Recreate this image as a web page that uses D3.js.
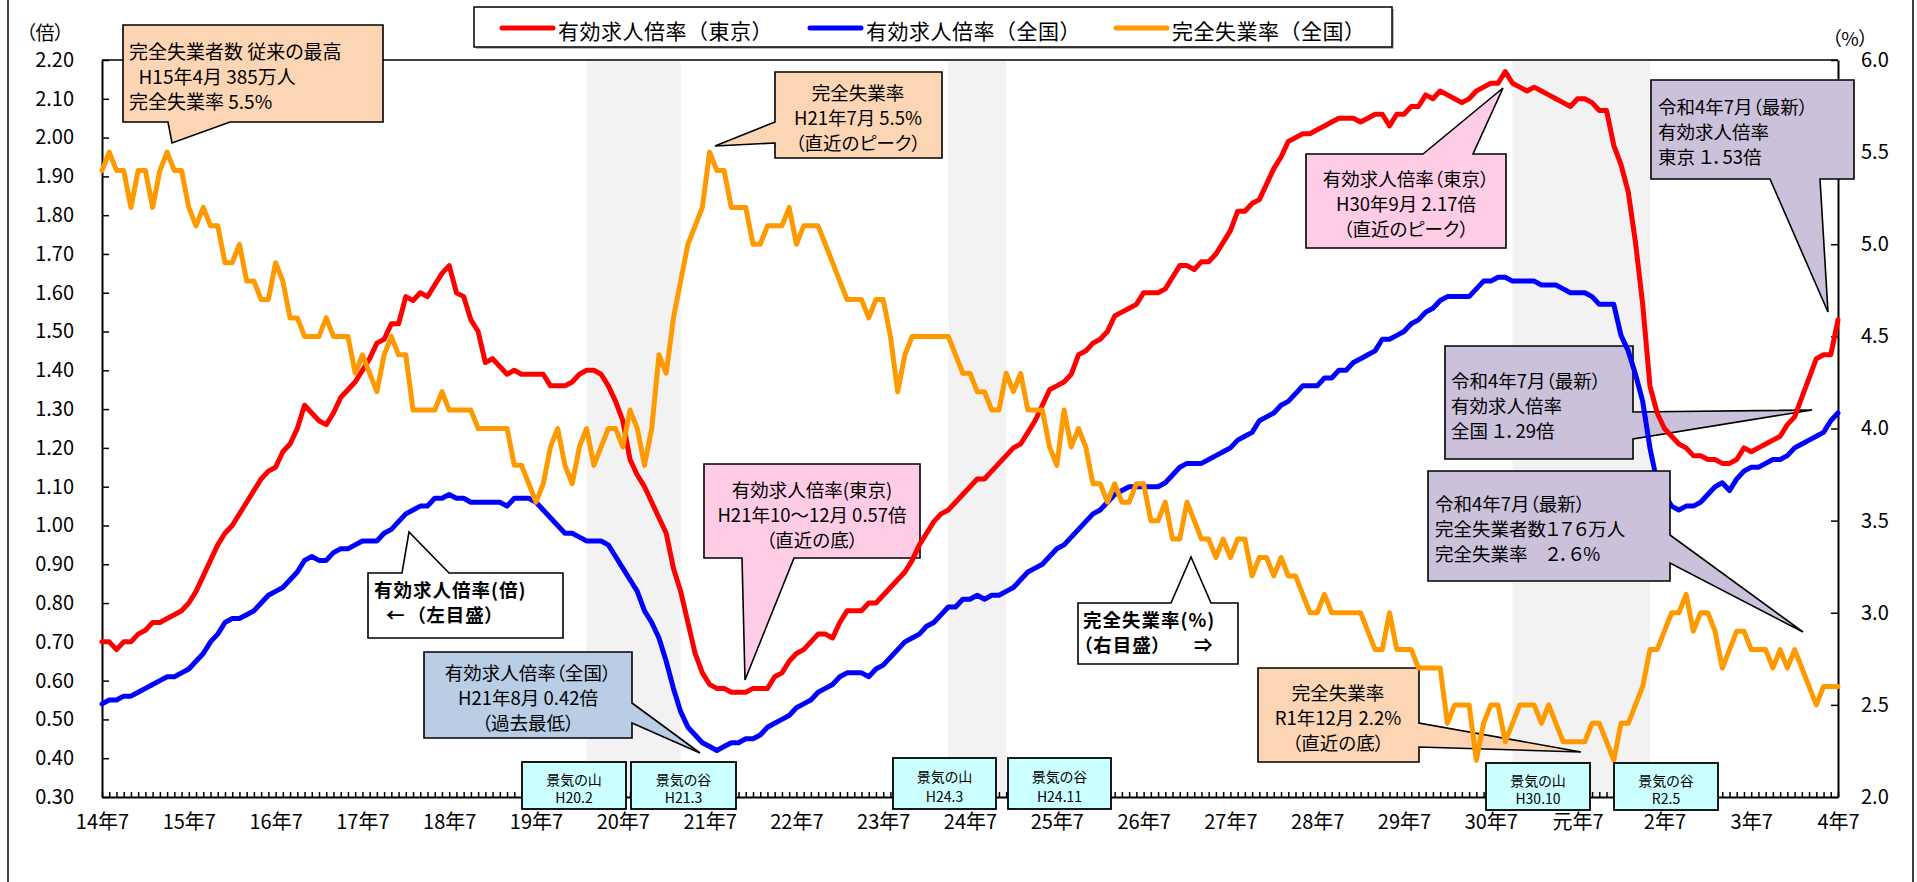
<!DOCTYPE html>
<html lang="ja"><head><meta charset="utf-8">
<script src="https://cdn.jsdelivr.net/npm/d3@7/dist/d3.min.js"></script>
<style>
html,body{margin:0;padding:0;background:#fff;overflow:hidden;}
svg{display:block;}
text{font-family:"Noto Sans CJK JP","Noto Sans",sans-serif;font-feature-settings:"palt";white-space:pre;fill:#000;}
</style></head><body>
<svg id="chart" width="1917" height="882"></svg>
<script>
// ---------------- DATA (monthly, H14.7 = index 0 ... R4.7 = index 240) ----------------
const seriesNames = ["有効求人倍率（東京）", "有効求人倍率（全国）", "完全失業率（全国）"];

const tokyoRatio = [
 0.70,0.70,0.68,0.70,0.70,0.72,0.73,0.75,0.75,0.76,0.77,0.78,
 0.80,0.83,0.87,0.91,0.95,0.98,1.00,1.03,1.06,1.09,1.12,1.14,
 1.15,1.19,1.21,1.25,1.31,1.29,1.27,1.26,1.29,1.33,1.35,1.37,
 1.40,1.43,1.47,1.48,1.52,1.52,1.59,1.58,1.60,1.59,1.62,1.65,
 1.67,1.60,1.59,1.53,1.50,1.42,1.43,1.41,1.39,1.40,1.39,1.39,
 1.39,1.39,1.36,1.36,1.36,1.37,1.39,1.40,1.40,1.39,1.36,1.32,
 1.27,1.17,1.13,1.10,1.06,1.02,0.98,0.89,0.83,0.75,0.67,0.62,
 0.59,0.58,0.58,0.57,0.57,0.57,0.58,0.58,0.58,0.61,0.62,0.65,
 0.67,0.68,0.70,0.72,0.72,0.71,0.75,0.78,0.78,0.78,0.80,0.80,
 0.82,0.84,0.86,0.88,0.91,0.95,0.98,1.01,1.03,1.04,1.06,1.08,
 1.10,1.12,1.12,1.14,1.16,1.18,1.20,1.21,1.24,1.27,1.31,1.35,
 1.36,1.37,1.39,1.44,1.45,1.47,1.48,1.50,1.54,1.55,1.56,1.57,
 1.60,1.60,1.60,1.61,1.64,1.67,1.67,1.66,1.68,1.68,1.70,1.73,
 1.76,1.81,1.81,1.83,1.84,1.88,1.92,1.95,1.99,2.00,2.01,2.01,
 2.02,2.03,2.04,2.05,2.05,2.05,2.04,2.05,2.06,2.06,2.03,2.06,
 2.06,2.08,2.08,2.11,2.10,2.12,2.11,2.10,2.09,2.10,2.12,2.13,
 2.14,2.14,2.17,2.14,2.13,2.12,2.13,2.12,2.11,2.10,2.09,2.08,
 2.10,2.10,2.09,2.07,2.07,1.98,1.93,1.86,1.73,1.57,1.36,1.29,
 1.25,1.23,1.21,1.20,1.18,1.18,1.17,1.17,1.16,1.16,1.17,1.20,
 1.19,1.20,1.21,1.22,1.23,1.26,1.28,1.33,1.38,1.43,1.44,1.44,
 1.53
];

const nationalRatio = [
 0.54,0.55,0.55,0.56,0.56,0.57,0.58,0.59,0.60,0.61,0.61,0.62,
 0.63,0.65,0.67,0.70,0.72,0.75,0.76,0.76,0.77,0.78,0.80,0.82,
 0.83,0.84,0.86,0.88,0.91,0.92,0.91,0.91,0.93,0.94,0.94,0.95,
 0.96,0.96,0.96,0.98,0.99,1.01,1.03,1.04,1.05,1.05,1.07,1.07,
 1.08,1.07,1.07,1.06,1.06,1.06,1.06,1.06,1.05,1.07,1.07,1.07,
 1.06,1.04,1.02,1.00,0.98,0.98,0.97,0.96,0.96,0.96,0.95,0.92,
 0.89,0.86,0.83,0.78,0.75,0.71,0.65,0.58,0.52,0.48,0.46,0.44,
 0.43,0.42,0.43,0.44,0.44,0.45,0.45,0.46,0.48,0.49,0.50,0.51,
 0.53,0.54,0.55,0.57,0.58,0.59,0.61,0.62,0.62,0.62,0.61,0.63,
 0.64,0.66,0.68,0.70,0.71,0.72,0.74,0.75,0.77,0.79,0.79,0.81,
 0.81,0.82,0.81,0.82,0.82,0.83,0.84,0.86,0.88,0.89,0.90,0.92,
 0.94,0.95,0.97,0.99,1.01,1.03,1.04,1.06,1.08,1.09,1.10,1.10,
 1.10,1.10,1.10,1.11,1.13,1.15,1.16,1.16,1.16,1.17,1.18,1.19,
 1.20,1.22,1.23,1.24,1.27,1.28,1.29,1.31,1.32,1.34,1.36,1.36,
 1.36,1.38,1.38,1.40,1.40,1.42,1.43,1.44,1.45,1.48,1.48,1.49,
 1.50,1.52,1.53,1.55,1.56,1.58,1.59,1.59,1.59,1.59,1.61,1.63,
 1.63,1.64,1.64,1.63,1.63,1.63,1.63,1.62,1.62,1.62,1.61,1.60,
 1.60,1.60,1.59,1.57,1.57,1.57,1.49,1.45,1.39,1.32,1.20,1.11,
 1.08,1.05,1.04,1.05,1.05,1.06,1.08,1.10,1.11,1.09,1.12,1.14,
 1.15,1.15,1.16,1.17,1.17,1.18,1.20,1.21,1.22,1.23,1.24,1.27,
 1.29
];

const unemploymentRate = [
 5.4,5.5,5.4,5.4,5.2,5.4,5.4,5.2,5.4,5.5,5.4,5.4,
 5.2,5.1,5.2,5.1,5.1,4.9,4.9,5.0,4.8,4.8,4.7,4.7,
 4.9,4.8,4.6,4.6,4.5,4.5,4.5,4.6,4.5,4.5,4.5,4.3,
 4.4,4.3,4.2,4.4,4.5,4.4,4.4,4.1,4.1,4.1,4.1,4.2,
 4.1,4.1,4.1,4.1,4.0,4.0,4.0,4.0,4.0,3.8,3.8,3.7,
 3.6,3.7,3.9,4.0,3.8,3.7,3.9,4.0,3.8,3.9,4.0,4.0,
 3.9,4.1,4.0,3.8,4.0,4.4,4.3,4.6,4.8,5.0,5.1,5.2,
 5.5,5.4,5.4,5.2,5.2,5.2,5.0,5.0,5.1,5.1,5.1,5.2,
 5.0,5.1,5.1,5.1,5.0,4.9,4.8,4.7,4.7,4.7,4.6,4.7,
 4.7,4.5,4.2,4.4,4.5,4.5,4.5,4.5,4.5,4.5,4.4,4.3,
 4.3,4.2,4.2,4.1,4.1,4.3,4.2,4.3,4.1,4.1,4.1,3.9,
 3.8,4.1,3.9,4.0,3.9,3.7,3.7,3.6,3.7,3.6,3.6,3.7,
 3.7,3.5,3.5,3.6,3.4,3.4,3.6,3.5,3.4,3.4,3.3,3.4,
 3.3,3.4,3.4,3.2,3.3,3.3,3.2,3.3,3.2,3.2,3.1,3.0,
 3.0,3.1,3.0,3.0,3.0,3.0,3.0,2.9,2.8,2.8,3.0,2.8,
 2.8,2.8,2.7,2.7,2.7,2.7,2.4,2.5,2.5,2.5,2.2,2.4,
 2.5,2.5,2.3,2.4,2.5,2.5,2.5,2.4,2.5,2.4,2.3,2.3,
 2.3,2.3,2.4,2.4,2.3,2.2,2.4,2.4,2.5,2.6,2.8,2.8,
 2.9,3.0,3.0,3.1,2.9,3.0,3.0,2.9,2.7,2.8,2.9,2.9,
 2.8,2.8,2.8,2.7,2.8,2.7,2.8,2.7,2.6,2.5,2.6,2.6,
 2.6
];

const xTickLabels = ["14年7","15年7","16年7","17年7","18年7","19年7","20年7","21年7","22年7","23年7",
  "24年7","25年7","26年7","27年7","28年7","29年7","30年7","元年7","2年7","3年7","4年7"];
const leftTicks  = [0.30,0.40,0.50,0.60,0.70,0.80,0.90,1.00,1.10,1.20,1.30,1.40,1.50,1.60,1.70,1.80,1.90,2.00,2.10,2.20];
const rightTicks = [2.0,2.5,3.0,3.5,4.0,4.5,5.0,5.5,6.0];

// recession periods (month index from H14.7): start, end
const recessionBands = [[67,80],[117,125],[195,214]];
const cycleKinds = ["景気の山","景気の谷","景気の山","景気の谷","景気の山","景気の谷"];
const cycleDates = ["H20.2","H21.3","H24.3","H24.11","H30.10","R2.5"];

// ---------------- LAYOUT ----------------
const W=1917, H=882, X0=102, X1=1838, Y0=60, Y1=797;
const COLORS = ["#ff0000","#0000ff","#ff9900"];
const PEACH="#fcd5b4", PINK="#ffcce6", PURPLE="#ccc1da", BLUEGREY="#b9cde5", CYAN="#ccffff";

const x  = d3.scaleLinear().domain([0, tokyoRatio.length-1]).range([X0, X1]);
const yL = d3.scaleLinear().domain([leftTicks[0], leftTicks[leftTicks.length-1]]).range([Y1, Y0]);
const yR = d3.scaleLinear().domain([rightTicks[0], rightTicks[rightTicks.length-1]]).range([Y1, Y0]);

const svg = d3.select("#chart");
svg.append("rect").attr("width",W).attr("height",H).attr("fill","#fff");
svg.append("rect").attr("x",8).attr("y",-3).attr("width",1905).attr("height",H+6)
   .attr("fill","none").attr("stroke","#000").attr("stroke-width",1.5);

// recession shading
svg.append("g").selectAll("rect").data(recessionBands).join("rect")
  .attr("x",d=>x(d[0])).attr("width",d=>x(d[1])-x(d[0]))
  .attr("y",Y0+1).attr("height",Y1-Y0-1).attr("fill","#f2f2f2");

// top frame
svg.append("line").attr("x1",X0).attr("x2",X1).attr("y1",Y0).attr("y2",Y0)
   .attr("stroke","#000").attr("stroke-width",1.5);

function styleAxis(g, fs){
  g.attr("font-size",fs).attr("font-family",null);
  g.select(".domain").attr("stroke","#000").attr("stroke-width",2);
  g.selectAll(".tick line").attr("stroke","#000").attr("stroke-width",1.5);
  g.selectAll(".tick text").attr("fill","#000");
}
// left axis
const gL = svg.append("g").attr("transform",`translate(${X0},0)`)
  .call(d3.axisLeft(yL).tickValues(leftTicks).tickFormat(d3.format(".2f")).tickSizeInner(-7).tickSizeOuter(0).tickPadding(28));
styleAxis(gL, 20);
// right axis
const gR = svg.append("g").attr("transform",`translate(${X1},0)`)
  .call(d3.axisRight(yR).tickValues(rightTicks).tickFormat(d3.format(".1f")).tickSizeInner(-7).tickSizeOuter(0).tickPadding(23));
styleAxis(gR, 20);
// bottom axis: monthly ticks
const gB = svg.append("g").attr("transform",`translate(0,${Y1})`)
  .call(d3.axisBottom(x).tickValues(d3.range(0, tokyoRatio.length)).tickFormat(()=>"").tickSizeInner(-5).tickSizeOuter(0));
styleAxis(gB, 10);
gB.selectAll(".tick text").remove();
// bottom axis labels (every July)
const gBL = svg.append("g").attr("transform",`translate(0,${Y1})`)
  .call(d3.axisBottom(x).tickValues(d3.range(0, tokyoRatio.length, 12)).tickFormat((d,i)=>xTickLabels[i]).tickSize(0));
gBL.select(".domain").remove();
gBL.attr("font-size",20).attr("font-family",null);
gBL.selectAll(".tick text").attr("y",25).attr("dy","0.35em").attr("fill","#000");

// axis unit labels
svg.append("text").attr("x",45).attr("y",31).attr("text-anchor","middle").attr("dominant-baseline","central")
   .attr("font-size",19).text("（倍）");
svg.append("text").attr("x",1850).attr("y",37).attr("text-anchor","middle").attr("dominant-baseline","central")
   .attr("font-size",19).text("（%）");

// ---------------- CALLOUTS ----------------
function calloutPath(c){
  const [bx,by,bw,bh]=c.box, [a,b]=c.base, [tx,ty]=c.tip, r=bx+bw, btm=by+bh;
  switch(c.side){
    case "bottom": return `M${bx},${by}H${r}V${btm}H${b}L${tx},${ty}L${a},${btm}H${bx}Z`;
    case "top":    return `M${bx},${by}H${a}L${tx},${ty}L${b},${by}H${r}V${btm}H${bx}Z`;
    case "left":   return `M${bx},${by}H${r}V${btm}H${bx}V${b}L${tx},${ty}L${bx},${a}Z`;
    case "right":  return `M${bx},${by}H${r}V${a}L${tx},${ty}L${r},${b}V${btm}H${bx}Z`;
  }
}
function drawCallout(g,c){
  g.append("path").attr("d",calloutPath(c)).attr("fill",c.fill)
   .attr("stroke","#000").attr("stroke-width",1.6).attr("stroke-linejoin","miter");
  const t=g.append("g").attr("font-size",c.size||19).attr("font-weight",c.bold?"bold":"normal");
  c.lines.forEach((ln,i)=>{
    const pieces = Array.isArray(ln) ? ln : [{t:ln}];
    pieces.forEach(p=>{
      t.append("text").attr("x",p.x!=null?p.x:c.tx).attr("y",c.ys[i])
       .attr("dominant-baseline","central")
       .attr("text-anchor",p.x!=null?"start":c.anchor)
       .style("letter-spacing",(c.ls||0)+"px")
       .text(p.t);
    });
  });
}
const callouts = [
  {box:[123,25,260,97], side:"bottom", base:[168,230], tip:[172,143], fill:PEACH, anchor:"start", tx:129, ys:[50,75,100],
   lines:["完全失業者数 従来の最高","\u2002H15年4月 385万人","完全失業率 5.5%"]},
  {box:[775,72,167,86], side:"left", base:[122,143], tip:[715,146], fill:PEACH, anchor:"middle", tx:858, ys:[92,117,142], size:18.5,
   lines:["完全失業率","H21年7月 5.5%","（直近のピーク）"]},
  {box:[1306,154,200,94], side:"top", base:[1423,1473], tip:[1503,88], fill:PINK, anchor:"middle", tx:1406, ys:[178,203,228], size:18.5,
   lines:["有効求人倍率（東京）","H30年9月 2.17倍","（直近のピーク）"]},
  {box:[1445,346,188,113], side:"right", base:[412,439], tip:[1812,410], fill:PURPLE, anchor:"start", tx:1451, ys:[380,405,430], size:18.5,
   lines:["令和4年7月（最新）","有効求人倍率","全国 １．29倍"]},
  {box:[1258,668,161,94], side:"right", base:[723,747], tip:[1581,752], fill:PEACH, anchor:"middle", tx:1338, ys:[692,717,742], size:18.5,
   lines:["完全失業率","R1年12月 2.2%","（直近の底）"]},
  {box:[704,464,216,94], side:"bottom", base:[742,794], tip:[745,680], fill:PINK, anchor:"middle", tx:812, ys:[489,514,539], size:18.5,
   lines:["有効求人倍率(東京)","H21年10～12月 0.57倍","（直近の底）"]},
  {box:[424,652,208,86], side:"right", base:[703,723], tip:[700,753], fill:BLUEGREY, anchor:"middle", tx:528, ys:[672,697,722], size:18.5,
   lines:["有効求人倍率（全国）","H21年8月 0.42倍","（過去最低）"]},
  {box:[368,573,195,65], side:"top", base:[402,449], tip:[409,532], fill:"#fff", bold:true, anchor:"start", tx:374, ys:[589,614], ls:1, size:18.5,
   lines:["有効求人倍率(倍)", [{t:"←",x:386},{t:"（左目盛）",x:416}]]},
  {box:[1078,603,160,61], side:"top", base:[1171,1211], tip:[1191,557], fill:"#fff", bold:true, anchor:"start", tx:1083, ys:[619,644], ls:1, size:18.5,
   lines:["完全失業率(%)", [{t:"（右目盛）",x:1083},{t:"⇒",x:1194}]]}
];
const calloutsTop = [
  {box:[1651,80,203,99], side:"bottom", base:[1770,1820], tip:[1828,312], fill:PURPLE, anchor:"start", tx:1658, ys:[106,131,156], size:18.5,
   lines:["令和4年7月（最新）","有効求人倍率","東京 １．53倍"]},
  {box:[1428,471,242,110], side:"right", base:[535,563], tip:[1803,632], fill:PURPLE, anchor:"start", tx:1435, ys:[503,528,553], size:18.5,
   lines:["令和4年7月（最新）","完全失業者数１７６万人","完全失業率　２．６%"]}
];
const gC1 = svg.append("g");
callouts.forEach(c=>drawCallout(gC1,c));

// ---------------- SERIES ----------------
const lineL = d3.line().x((d,i)=>x(i)).y(d=>yL(d));
const lineR = d3.line().x((d,i)=>x(i)).y(d=>yR(d));
const gS = svg.append("g").attr("fill","none").attr("stroke-width",5)
  .attr("stroke-linejoin","round").attr("stroke-linecap","round");
gS.append("path").attr("d",lineL(tokyoRatio)).attr("stroke",COLORS[0]);
gS.append("path").attr("d",lineL(nationalRatio)).attr("stroke",COLORS[1]);
gS.append("path").attr("d",lineR(unemploymentRate)).attr("stroke",COLORS[2]);

const gC2 = svg.append("g");
calloutsTop.forEach(c=>drawCallout(gC2,c));

// ---------------- BUSINESS CYCLE LABELS ----------------
const cycleBoxes = [[522,762,104,47],[631,762,105,47],[893,758,103,51],[1008,758,103,51],[1486,763,104,47],[1614,763,104,47]];
const gK = svg.append("g");
cycleKinds.forEach((k,i)=>{
  const [bx,by,bw,bh]=cycleBoxes[i];
  gK.append("rect").attr("x",bx).attr("y",by).attr("width",bw).attr("height",bh)
    .attr("fill",CYAN).attr("stroke","#000").attr("stroke-width",1.8);
  gK.append("text").attr("x",bx+bw/2).attr("y",by+bh*0.36).attr("text-anchor","middle")
    .attr("dominant-baseline","central").attr("font-size",14).attr("fill","#222").text(k);
  gK.append("text").attr("x",bx+bw/2).attr("y",by+bh*0.74).attr("text-anchor","middle")
    .attr("dominant-baseline","central").attr("font-size",14).attr("fill","#222").text(cycleDates[i]);
});

// ---------------- LEGEND ----------------
const gLeg = svg.append("g");
gLeg.append("rect").attr("x",476).attr("y",9).attr("width",918).attr("height",40).attr("fill","#bbb");
gLeg.append("rect").attr("x",474).attr("y",7).attr("width",918).attr("height",40)
    .attr("fill","#fff").attr("stroke","#000").attr("stroke-width",1.5);
const legX = [502, 810, 1116];
seriesNames.forEach((n,i)=>{
  gLeg.append("line").attr("x1",legX[i]).attr("x2",legX[i]+51).attr("y1",28).attr("y2",28)
      .attr("stroke",COLORS[i]).attr("stroke-width",5).attr("stroke-linecap","round");
  gLeg.append("text").attr("x",legX[i]+56).attr("y",29.5).attr("dominant-baseline","central")
      .attr("font-size",21).style("font-feature-settings","normal").style("letter-spacing","0.5px").text(n);
});
</script></body></html>
